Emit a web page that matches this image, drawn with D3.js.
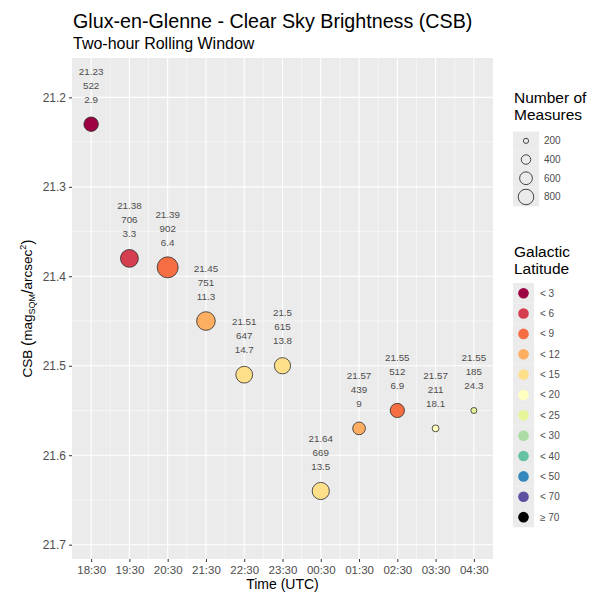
<!DOCTYPE html>
<html>
<head>
<meta charset="utf-8">
<script src="https://cdn.jsdelivr.net/npm/d3@7"></script>
<style>
  html, body { margin: 0; padding: 0; background: #ffffff; }
  svg { display: block; font-family: "Liberation Sans", Arial, sans-serif; }
</style>
</head>
<body>
<svg id="chart" width="604" height="594"></svg>
<script>
// Two-hour rolling window readings at Glux-en-Glenne
const times = ["18:30", "19:30", "20:30", "21:30", "22:30", "23:30", "00:30", "01:30", "02:30", "03:30", "04:30"];
const csb = [21.23, 21.38, 21.39, 21.45, 21.51, 21.5, 21.64, 21.57, 21.55, 21.57, 21.55];
const measures = [522, 706, 902, 751, 647, 615, 669, 439, 512, 211, 185];
const latitude = [2.9, 3.3, 6.4, 11.3, 14.7, 13.8, 13.5, 9, 6.9, 18.1, 24.3];

// Galactic latitude classes
const latBreaks = [3, 6, 9, 12, 15, 20, 25, 30, 40, 50, 70];
const latLabels = ["< 3", "< 6", "< 9", "< 12", "< 15", "< 20", "< 25", "< 30", "< 40", "< 50", "< 70", "\u2265 70"];
const latColors = ["#9e0142", "#d53e4f", "#f46d43", "#fdae61", "#fee08b", "#ffffbf",
                   "#e6f598", "#abdda4", "#66c2a5", "#3288bd", "#5e4fa2", "#000000"];

const sizeBreaks = [200, 400, 600, 800];
const yTicks = [21.2, 21.3, 21.4, 21.5, 21.6, 21.7];
const yMinor = [21.25, 21.35, 21.45, 21.55, 21.65];

const svg = d3.select("#chart");
const panel = { left: 72, right: 493, top: 58, bottom: 559 };

const x = d3.scalePoint().domain(times).range([panel.left, panel.right]).padding(0.5);
const y = d3.scaleLinear().domain([21.156, 21.716]).range([panel.top, panel.bottom]);
const color = d3.scaleThreshold().domain(latBreaks).range(latColors);
const sq = d3.scaleLinear()
  .domain(d3.extent(measures).map(Math.sqrt))
  .range([3, 10.5]);
const radius = n => sq(Math.sqrt(n));

const textGrey = "#4d4d4d";

// Panel background and grid
svg.append("rect")
  .attr("x", panel.left).attr("y", panel.top)
  .attr("width", panel.right - panel.left).attr("height", panel.bottom - panel.top)
  .attr("fill", "#ebebeb");

const grid = svg.append("g");
grid.selectAll("line.ymin").data(yMinor).join("line")
  .attr("x1", panel.left).attr("x2", panel.right)
  .attr("y1", d => y(d)).attr("y2", d => y(d))
  .attr("stroke", "#ffffff").attr("stroke-width", 0.5);
const step = x.step();
grid.selectAll("line.xmin").data(times.slice(1)).join("line")
  .attr("x1", d => x(d) - step / 2).attr("x2", d => x(d) - step / 2)
  .attr("y1", panel.top).attr("y2", panel.bottom)
  .attr("stroke", "#ffffff").attr("stroke-width", 0.5);
grid.selectAll("line.ymaj").data(yTicks).join("line")
  .attr("x1", panel.left).attr("x2", panel.right)
  .attr("y1", d => y(d)).attr("y2", d => y(d))
  .attr("stroke", "#ffffff").attr("stroke-width", 1.1);
grid.selectAll("line.xmaj").data(times).join("line")
  .attr("x1", d => x(d)).attr("x2", d => x(d))
  .attr("y1", panel.top).attr("y2", panel.bottom)
  .attr("stroke", "#ffffff").attr("stroke-width", 1.1);

// Axes
const xAxis = svg.append("g")
  .attr("transform", `translate(0,${panel.bottom})`)
  .call(d3.axisBottom(x).tickSize(3).tickPadding(4));
const yAxis = svg.append("g")
  .attr("transform", `translate(${panel.left},0)`)
  .call(d3.axisLeft(y).tickValues(yTicks).tickFormat(d3.format(".1f")).tickSize(3).tickPadding(3));
[xAxis, yAxis].forEach(g => {
  g.select(".domain").remove();
  g.selectAll(".tick line").attr("stroke", "#333333").attr("stroke-width", 1);
  g.selectAll(".tick text").attr("fill", textGrey)
    .attr("font-family", "Liberation Sans, Arial, sans-serif");
});
xAxis.selectAll(".tick text").attr("font-size", 11.5);
yAxis.selectAll(".tick text").attr("font-size", 12);

// Points
const data = times.map((t, i) => ({ t, v: csb[i], n: measures[i], lat: latitude[i] }));
svg.append("g").selectAll("circle").data(data).join("circle")
  .attr("cx", d => x(d.t)).attr("cy", d => y(d.v))
  .attr("r", d => radius(d.n))
  .attr("fill", d => color(d.lat))
  .attr("stroke", "#2b2b2b").attr("stroke-width", 0.8);

// Value labels above each point: CSB, measures, latitude
const labels = svg.append("g").attr("font-size", 9.8).attr("fill", textGrey).attr("text-anchor", "middle");
data.forEach(d => {
  const lines = [String(d.v), String(d.n), String(d.lat)];
  lines.forEach((s, k) => {
    labels.append("text")
      .attr("x", x(d.t))
      .attr("y", y(d.v) - 25 - (2 - k) * 14 + 3.5)
      .text(s);
  });
});

// Titles
svg.append("text").attr("x", 73).attr("y", 28)
  .attr("font-size", 19.7).attr("fill", "#000000")
  .text("Glux-en-Glenne - Clear Sky Brightness (CSB)");
svg.append("text").attr("x", 73).attr("y", 49)
  .attr("font-size", 16).attr("fill", "#000000")
  .text("Two-hour Rolling Window");

svg.append("text")
  .attr("x", (panel.left + panel.right) / 2).attr("y", 589)
  .attr("text-anchor", "middle").attr("font-size", 14).attr("fill", "#000000")
  .text("Time (UTC)");

const yTitle = svg.append("text")
  .attr("transform", `translate(32,${(panel.top + panel.bottom) / 2}) rotate(-90)`)
  .attr("text-anchor", "middle").attr("font-size", 13.5).attr("fill", "#000000");
yTitle.append("tspan").text("CSB ");
yTitle.append("tspan").attr("font-size", 16).attr("dy", 1).text("(");
yTitle.append("tspan").attr("dy", -1).text("mag");
yTitle.append("tspan").attr("font-size", 9).attr("dy", 3).text("SQM");
yTitle.append("tspan").attr("font-size", 16).attr("dy", -2).text("/");
yTitle.append("tspan").attr("dy", -1).text("arcsec");
yTitle.append("tspan").attr("font-size", 9).attr("dy", -6).text("2");
yTitle.append("tspan").attr("font-size", 16).attr("dy", 7).text(")");

// Size legend
const lg = svg.append("g");
lg.append("text").attr("x", 514).attr("y", 103).attr("font-size", 15.5).text("Number of");
lg.append("text").attr("x", 514).attr("y", 120).attr("font-size", 15.5).text("Measures");
const sizeKeyH = 18.7, sizeTop = 131.5, sizeKeyW = 26, keyX = 513;
sizeBreaks.forEach((b, i) => {
  const cy = sizeTop + sizeKeyH * (i + 0.5);
  lg.append("rect").attr("x", keyX).attr("y", sizeTop + sizeKeyH * i)
    .attr("width", sizeKeyW).attr("height", sizeKeyH).attr("fill", "#ebebeb");
  lg.append("circle").attr("cx", keyX + sizeKeyW / 2).attr("cy", cy)
    .attr("r", radius(b) * 0.8).attr("fill", "none")
    .attr("stroke", "#333333").attr("stroke-width", 0.9);
  lg.append("text").attr("x", 544).attr("y", cy + 3.5)
    .attr("font-size", 10).attr("fill", textGrey).text(b);
});

// Latitude legend
lg.append("text").attr("x", 514).attr("y", 257).attr("font-size", 15.5).text("Galactic");
lg.append("text").attr("x", 514).attr("y", 274).attr("font-size", 15.5).text("Latitude");
const latKeyH = 20.36, latTop = 283, latKeyW = 21;
latLabels.forEach((lab, i) => {
  const cy = latTop + latKeyH * (i + 0.5);
  lg.append("rect").attr("x", keyX).attr("y", latTop + latKeyH * i)
    .attr("width", latKeyW).attr("height", latKeyH).attr("fill", "#ebebeb");
  lg.append("circle").attr("cx", keyX + latKeyW / 2).attr("cy", cy)
    .attr("r", 5.3).attr("fill", latColors[i]);
  lg.append("text").attr("x", 540).attr("y", cy + 3.5)
    .attr("font-size", 10).attr("fill", textGrey).text(lab);
});
</script>
</body>
</html>
